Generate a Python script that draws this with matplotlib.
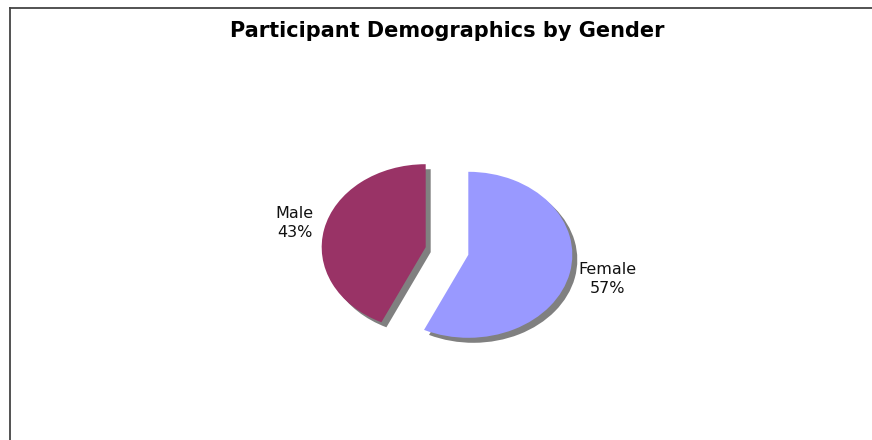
import matplotlib.pyplot as plt
from matplotlib.lines import Line2D

genders = ['Female', 'Male']
shares = [57, 43]
colors = ['#9999FF', '#993366']

W, H = 872, 440
cx, cy = 447, 251      # pie centre in pixels (from top-left)
rx, ry = 104, 83       # horizontal / vertical radius in pixels

fig = plt.figure(figsize=(W / 100, H / 100), dpi=100)
ax = fig.add_axes([0, 0, 1, 1])

explode = [0.21, 0.21]
labels = [f'{g}\n{s}%' for g, s in zip(genders, shares)]

# drop shadow first, slightly offset to the lower right
ax.pie(shares, explode=explode, colors=['#808080'] * 2, startangle=90,
       counterclock=False, center=(5 / rx, -5 / ry),
       wedgeprops=dict(linewidth=0))
wedges, texts = ax.pie(shares, explode=explode, colors=colors, startangle=90,
                       counterclock=False, labels=labels, labeldistance=1.33,
                       wedgeprops=dict(linewidth=0),
                       textprops=dict(ha='center', va='center', fontsize=11.5,
                                      family='DejaVu Sans', color='#111111',
                                      linespacing=1.3))
# nudge the labels a little to the right
for t in texts:
    x, y = t.get_position()
    t.set_position((x + 4 / rx, y))

# stretch the unit circle into an ellipse
ax.set_aspect('auto')
ax.set_xlim(-cx / rx, (W - cx) / rx)
ax.set_ylim(-(H - cy) / ry, cy / ry)
ax.axis('off')

fig.text(447 / W, 1 - 31 / H, 'Participant Demographics by Gender',
         ha='center', va='center', fontsize=15, fontweight='bold',
         family='DejaVu Sans', color='#000000')

# chart frame (top and left edges)
fig.add_artist(Line2D([9.5 / W, 1], [1 - 8.5 / H] * 2, color='#444444', lw=1.3))
fig.add_artist(Line2D([9.5 / W] * 2, [0, 1 - 8.5 / H], color='#444444', lw=1.3))

fig.savefig('out.png', dpi=100, facecolor='white')
